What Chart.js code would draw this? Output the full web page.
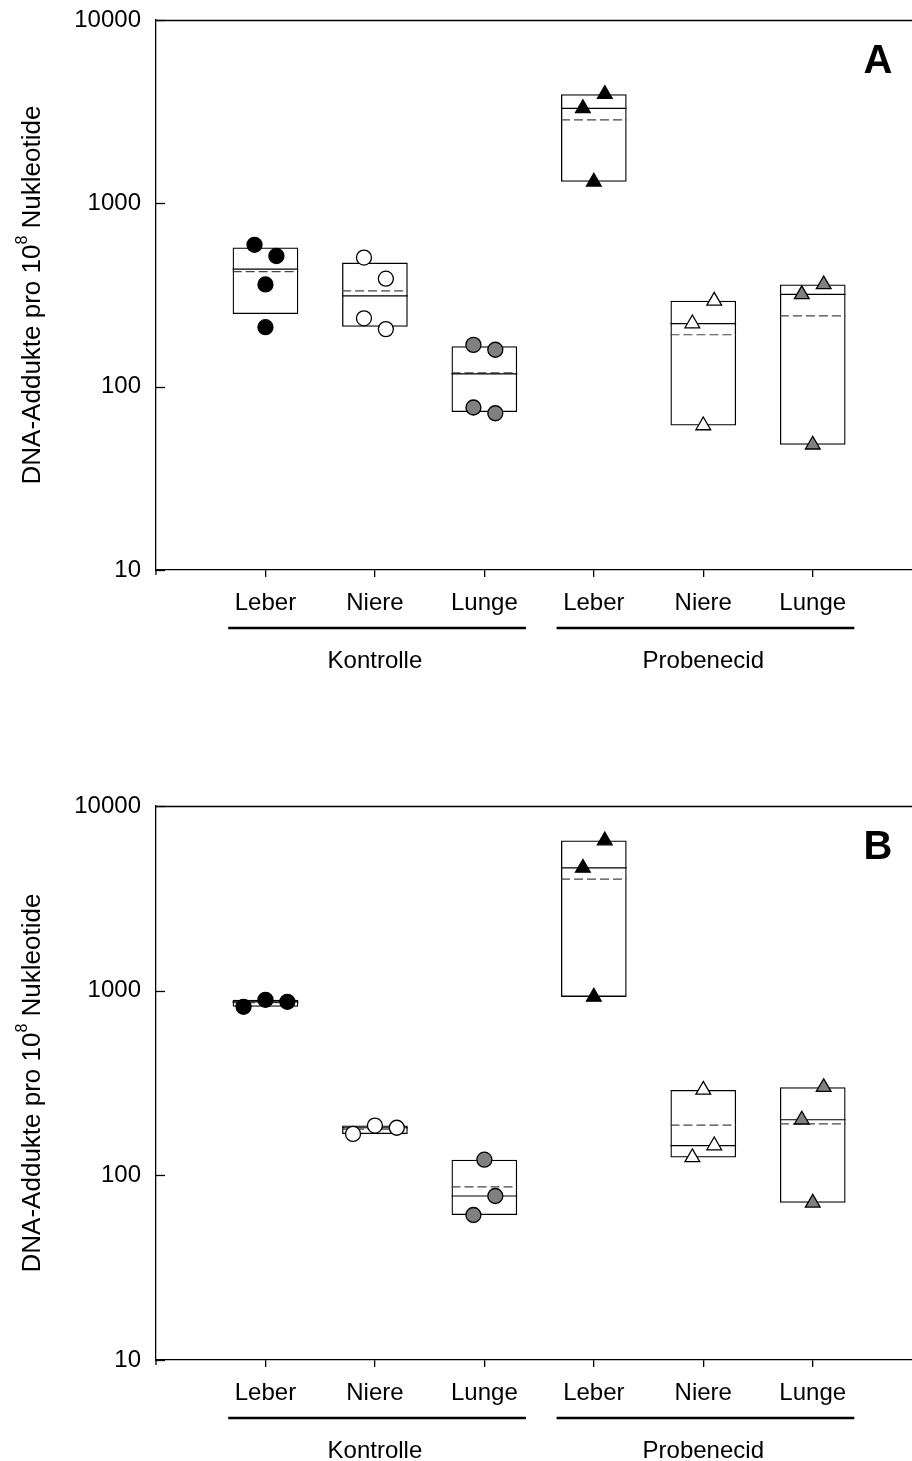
<!DOCTYPE html>
<html><head><meta charset="utf-8">
<script src="https://cdn.jsdelivr.net/npm/chart.js@4"></script>
<style>
html,body{margin:0;padding:0;background:#fff;overflow:hidden;width:912px;height:1461px;}
#wrapA{position:absolute;left:0;top:0;width:932px;height:700px;}
#wrapB{position:absolute;left:0;top:786px;width:932px;height:675px;}
</style></head><body>
<div id="wrapA"><canvas id="cA" width="932" height="700"></canvas></div>
<div id="wrapB"><canvas id="cB" width="932" height="675"></canvas></div>
<script>
// ---- data ----
const categories = ['Leber','Niere','Lunge','Leber','Niere','Lunge'];
const groups = ['Kontrolle','Probenecid'];
const yTicks = [10, 100, 1000, 10000];
const yTitleMain = 'DNA-Addukte pro 10';
const yTitleSup = '8';
const yTitleEnd = ' Nukleotide';

// Panel A
const pointsA = [[594,516,361,211],[506,388,236,206],[169,159,77,71.6],[3939,3296,1310],[294,221,61.4],[361,319,48.2]];
const jitterA = [[-0.1,0.1,0,0],[-0.1,0.1,-0.1,0.1],[-0.1,0.1,-0.1,0.1],[0.1,-0.1,0],[0.1,-0.1,0],[0.1,-0.1,0]];
const boxLowA = [249,212,72.8,1310,61.4,48.2];
const boxHighA = [574,475,166,3939,294,361];
const medianA = [438,313,117.3,3296,221,319];
const meanA = [424,333,119,2851,192,243];

// Panel B
const pointsB = [[818,892,870],[167.5,186,181],[121.5,77.3,61],[6500,4620,925],[290,145,125],[300,200,71]];
const jitterB = [[-0.2,0,0.2],[-0.2,0,0.2],[0,0.1,-0.1],[0.1,-0.1,0],[0,0.1,-0.1],[0.1,-0.1,0]];
const boxLowB = [818,167.5,61,925,125,71];
const boxHighB = [892,186,121.5,6500,290,300];
const medianB = [870,181,77.3,4620,145,200];
const meanB = [860,178,86.6,4015,187,190];

// ---- styles ----
const FONT = "'Liberation Sans', Arial, sans-serif";
const shapes = ['circle','circle','circle','triangle','triangle','triangle'];
const fills = ['#000000','#ffffff','#808080','#000000','#ffffff','#808080'];
const HALF = 0.3;

function lineData(vals){
  const out = [];
  vals.forEach((v,i)=>{
    out.push({x:i+1-HALF, y:v});
    out.push({x:i+1+HALF, y:v});
    out.push({x:i+1.5, y:null});
  });
  return out;
}

function makePlugin(letter){
  return {
    id:'deco'+letter,
    afterDraw(chart){
      const ctx = chart.ctx, a = chart.chartArea;
      const xs = chart.scales.x, ys = chart.scales.y;
      ctx.save();
      ctx.strokeStyle = '#000'; ctx.lineWidth = 1.3;
      // top frame
      ctx.beginPath(); ctx.moveTo(a.left, a.top+0.5); ctx.lineTo(a.right, a.top+0.5); ctx.stroke();
      // left axis stub below x axis
      ctx.beginPath(); ctx.moveTo(a.left, a.bottom); ctx.lineTo(a.left, a.bottom+5); ctx.stroke();
      // inward y ticks
      yTicks.forEach(v=>{
        const y = Math.round(ys.getPixelForValue(v))+0.5;
        ctx.beginPath(); ctx.moveTo(a.left, y); ctx.lineTo(a.left+9, y); ctx.stroke();
      });
      // group lines + labels
      ctx.fillStyle = '#000';
      ctx.font = "24px " + FONT;
      ctx.textAlign = 'center'; ctx.textBaseline = 'middle';
      groups.forEach((g,gi)=>{
        const first = gi*3+1, last = gi*3+3;
        const x0 = xs.getPixelForValue(first-0.34), x1 = xs.getPixelForValue(last+0.38);
        const ly = a.bottom + 58;
        ctx.lineWidth = 2.6;
        ctx.beginPath(); ctx.moveTo(x0, ly); ctx.lineTo(x1, ly); ctx.stroke();
        ctx.fillText(g, xs.getPixelForValue((first+last)/2), a.bottom + 91);
      });
      // panel letter
      ctx.font = "bold 40px " + FONT;
      ctx.fillText(letter, 878, a.top + 42);
      // y title with superscript
      const fs = 26, sfs = 16;
      ctx.translate(33, (a.top + a.bottom)/2);
      ctx.rotate(-Math.PI/2);
      ctx.font = fs + "px " + FONT;
      const w1 = ctx.measureText(yTitleMain).width;
      const w3 = ctx.measureText(yTitleEnd).width;
      ctx.font = sfs + "px " + FONT;
      const w2 = ctx.measureText(yTitleSup).width;
      let x = -(w1+w2+w3)/2;
      ctx.textAlign = 'left'; ctx.textBaseline = 'middle';
      ctx.font = fs + "px " + FONT;
      ctx.fillText(yTitleMain, x, 0); x += w1;
      ctx.font = sfs + "px " + FONT;
      ctx.fillText(yTitleSup, x, -10); x += w2;
      ctx.font = fs + "px " + FONT;
      ctx.fillText(yTitleEnd, x, 0);
      ctx.restore();
    }
  };
}

function buildChart(id, letter, points, jitter, boxLow, boxHigh, median, mean, xAxisH){
  const ds = [];
  categories.forEach((c,i)=>{
    ds.push({
      type:'scatter',
      data: points[i].map((v,j)=>({x:i+1+jitter[i][j], y:v})),
      pointStyle: shapes[i],
      pointRadius: shapes[i]==='circle' ? 7.5 : 8.5,
      pointHoverRadius: shapes[i]==='circle' ? 7.5 : 8.5,
      backgroundColor: fills[i], borderColor:'#000', borderWidth:1.3,
      order:0
    });
  });
  ds.push({type:'line', data: lineData(median), borderColor:'#000', borderWidth:1.2,
    pointRadius:0, spanGaps:false, fill:false, order:1});
  ds.push({type:'line', data: lineData(mean), borderColor:'#444', borderWidth:1.2,
    borderDash:[9,4], pointRadius:0, spanGaps:false, fill:false, order:1});
  ds.push({type:'bar', data: boxLow.map((lo,i)=>({x:i+1, y:[lo, boxHigh[i]]})),
    backgroundColor:'rgba(255,255,255,0)', borderColor:'#000', borderWidth:1.3,
    borderSkipped:false, barPercentage:0.6, categoryPercentage:1, grouped:false, order:2});

  return new Chart(document.getElementById(id), {
    type:'scatter',
    data:{datasets:ds},
    options:{
      responsive:false, animation:false, devicePixelRatio:1,
      layout:{padding:{top:20,left:0,right:0,bottom:0}},
      plugins:{legend:{display:false}, tooltip:{enabled:false}},
      events:[],
      scales:{
        x:{type:'linear', min:0, max:7, position:'bottom', offset:false,
          afterBuildTicks: s=>{ s.ticks = categories.map((c,i)=>({value:i+1})); },
          afterFit: s=>{ s.height = xAxisH; s.paddingLeft = 0; s.paddingRight = 0; },
          ticks:{callback:(v)=>categories[Math.round(v)-1] || '', font:{family:FONT, size:24}, color:'#000', padding:12, maxRotation:0, autoSkip:false},
          grid:{display:true, offset:false, drawOnChartArea:false, drawTicks:true, tickLength:7, color:'#000', lineWidth:1.3},
          border:{display:true, color:'#000', width:1.3}
        },
        y:{type:'logarithmic', min:10, max:10000,
          afterBuildTicks: s=>{ s.ticks = yTicks.map(v=>({value:v})); },
          afterFit: s=>{ s.width = 156; s.paddingTop = 0; s.paddingBottom = 0; },
          ticks:{callback:(v)=>String(v), font:{family:FONT, size:24}, color:'#000', padding:15},
          grid:{display:false, drawTicks:false},
          border:{display:true, color:'#000', width:1.3}
        }
      }
    },
    plugins:[makePlugin(letter)]
  });
}

buildChart('cA','A', pointsA, jitterA, boxLowA, boxHighA, medianA, meanA, 130);
buildChart('cB','B', pointsB, jitterB, boxLowB, boxHighB, medianB, meanB, 101);
</script>
</body></html>
